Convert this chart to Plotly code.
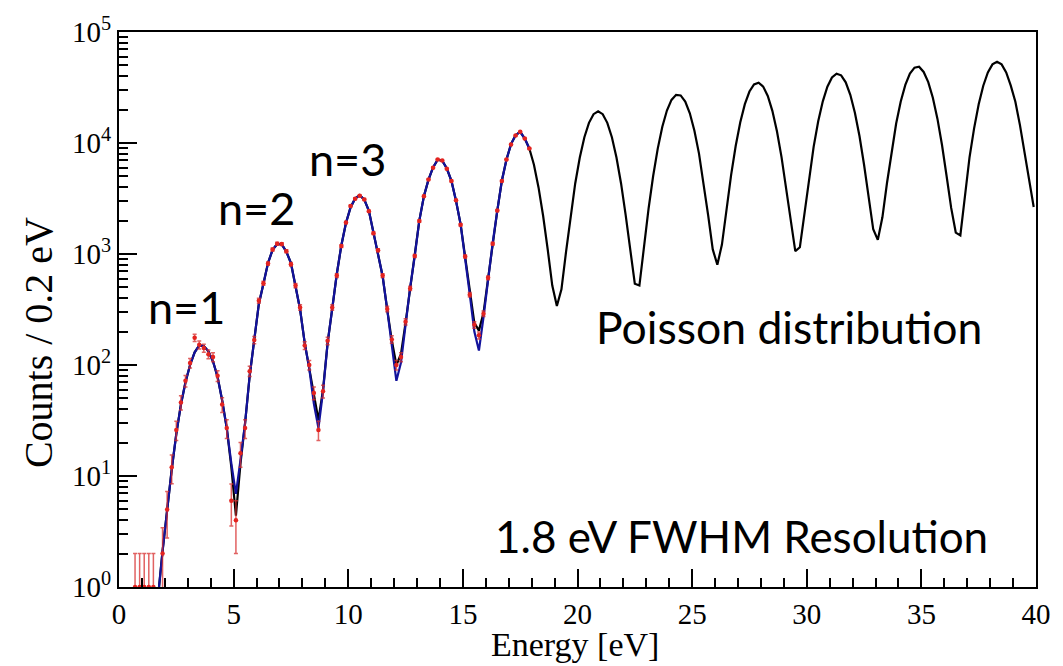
import numpy as np
import plotly.graph_objects as go

# Histogram bins: 0.2 eV wide, centres 0.1 ... 39.9 eV
ENERGY_BINS = [round(0.1 + 0.2 * i, 1) for i in range(200)]

# Black curve: Poisson distribution (counts / 0.2 eV), one value per bin
POISSON_COUNTS = [
    None, None, None, None, None, None, None, 0.25, 0.8, 2.1,
    5.2, 11.5, 24, 44, 70, 100, 130, 150, 148, 133,
    108, 78, 48, 27, 12, 4.4, 13, 30, 80, 170,
    355, 540, 830, 1090, 1230, 1220, 1050, 830, 525, 316,
    158, 93, 52, 32, 60, 158, 320, 660, 1200, 1900,
    2630, 3160, 3390, 3090, 2450, 1580, 1050, 630, 316, 166,
    100, 126, 240, 500, 955, 2000, 3310, 4680, 6030, 7080,
    6920, 5890, 4570, 3020, 1860, 930, 436, 240, 204, 295,
    600, 1260, 2450, 4570, 7080, 9770, 11750, 12590, 10960, 8910,
    6370, 3980, 2210, 1100, 520, 340, 480, 1045, 2240, 4320,
    7400, 11260, 15190, 18180, 19300, 18180, 15190, 11260, 7400, 4320,
    2250, 1080, 540, 520, 1190, 2560, 5040, 8900, 14020, 19620,
    24440, 27150, 26840, 23620, 18520, 12910, 8030, 4440, 2230, 1100,
    800, 1215, 2535, 5140, 9400, 15350, 22380, 29090, 33740, 34930,
    32240, 26550, 19500, 12770, 7470, 3940, 1930, 1060, 1150, 2380,
    4890, 9230, 15680, 23730, 32150, 38920, 42150, 40710, 35180, 27180,
    18760, 11560, 6370, 3230, 1670, 1340, 2140, 4360, 8500, 14980,
    23650, 33420, 42230, 47730, 48610, 43660, 35330, 25580, 16560, 9590,
    5040, 2600, 1560, 1470, 3300, 7420, 13560, 22300, 32830, 43290,
    51090, 54000, 51090, 43290, 32830, 23500, 14500, 8200, 4600, 2650,
]

# Blue curve: fit, first 90 bins (0.1 ... 17.9 eV)
FIT_COUNTS = [
    None, None, None, None, None, None, None, 0.25, 0.8, 2.1,
    5.2, 11.5, 24, 44, 70, 100, 130, 150, 148, 133,
    108, 78, 48, 27, 13, 6.9, 14, 30, 80, 170,
    355, 540, 830, 1090, 1230, 1220, 1050, 830, 525, 316,
    158, 93, 45, 27, 58, 158, 320, 660, 1200, 1900,
    2630, 3160, 3390, 3090, 2450, 1580, 1050, 630, 316, 150,
    72, 105, 240, 500, 955, 2000, 3310, 4680, 6030, 7080,
    6920, 5890, 4570, 3020, 1860, 930, 436, 200, 135, 270,
    600, 1260, 2450, 4570, 7080, 9770, 11750, 12590, 10960, 8910,
]

# Red points: measured counts, first 90 bins (0.1 ... 17.9 eV)
DATA_COUNTS = [
    None, None, None, 1, 1, 1, 1, 1, None, 2,
    5, 12, 26, 46, 72, 104, 176, 152, 142, 125,
    118, 80, 44, 27, 6, 4, 16, 27, 88, 168,
    380, 545, 820, 1100, 1240, 1230, 1060, 810, 520, 330,
    150, 100, 56, 26, 58, 165, 330, 640, 1180, 1920,
    2700, 3150, 3350, 3100, 2430, 1540, 1080, 640, 320, 170,
    100, 118, 245, 490, 960, 1980, 3320, 4700, 6000, 7100,
    6950, 5850, 4550, 3050, 1830, 950, 430, 230, 185, 290,
    610, 1240, 2460, 4550, 7100, 9700, 11700, 12600, 11000, 8900,
]

X_TICKS = [0, 5, 10, 15, 20, 25, 30, 35, 40]
Y_TICK_VALUES = [1, 10, 100, 1000, 10000, 100000]
Y_TICK_TEXT = ["10<sup>0</sup>", "10<sup>1</sup>", "10<sup>2</sup>",
               "10<sup>3</sup>", "10<sup>4</sup>", "10<sup>5</sup>"]

# red points with Poisson (sqrt N) error bars
data_x = [e for e, c in zip(ENERGY_BINS, DATA_COUNTS) if c is not None]
data_y = [c for c in DATA_COUNTS if c is not None]
data_err = list(np.sqrt(np.array(data_y, dtype=float)))

fig = go.Figure()
fig.add_trace(go.Scatter(
    x=ENERGY_BINS, y=POISSON_COUNTS, mode="lines",
    line=dict(color="black", width=2.2), showlegend=False,
))
fig.add_trace(go.Scatter(
    x=ENERGY_BINS[:len(FIT_COUNTS)], y=FIT_COUNTS, mode="lines",
    line=dict(color="#12129c", width=2.2), showlegend=False,
))
fig.add_trace(go.Scatter(
    x=data_x, y=data_y, mode="markers",
    marker=dict(color="#e3231f", size=4.5),
    error_y=dict(type="data", array=data_err, visible=True,
                 color="rgba(215,45,45,0.75)", thickness=1.5, width=2),
    showlegend=False,
))

SERIF = "Liberation Serif"
SANS = "Lato"

fig.update_layout(
    width=1063, height=666,
    margin=dict(l=119, r=16, t=28, b=79),
    paper_bgcolor="white", plot_bgcolor="white",
    font=dict(family=SERIF, color="black"),
    xaxis=dict(
        range=[0, 40], tickmode="array", tickvals=X_TICKS,
        showline=True, linecolor="black", linewidth=2, mirror=True,
        ticks="inside", ticklen=18, tickwidth=1.5, tickcolor="black",
        minor=dict(ticks="inside", ticklen=9, tickwidth=1.5, tickcolor="black", dtick=1),
        tickfont=dict(family=SERIF, size=29, color="black"),
        showgrid=False, zeroline=False,
    ),
    yaxis=dict(
        type="log", range=[0, 5],
        tickmode="array", tickvals=Y_TICK_VALUES, ticktext=Y_TICK_TEXT,
        showline=True, linecolor="black", linewidth=2, mirror=True,
        ticks="inside", ticklen=18, tickwidth=1.5, tickcolor="black",
        minor=dict(ticks="inside", ticklen=9, tickwidth=1.5, tickcolor="black", dtick="D1"),
        tickfont=dict(family=SERIF, size=29, color="black"),
        showgrid=False, zeroline=False,
    ),
)

annotations = [
    dict(text="Energy [eV]", x=0.4968, y=-0.067, yanchor="top",
         font=dict(family=SERIF, size=34, color="black")),
    dict(text="Counts / 0.2 eV", x=-0.088, y=0.44, textangle=-90,
         font=dict(family=SERIF, size=40, color="black")),
    dict(text="n=1", x=0.0733, y=0.505, font=dict(family=SANS, size=45, color="black")),
    dict(text="n=2", x=0.1498, y=0.683, font=dict(family=SANS, size=45, color="black")),
    dict(text="n=3", x=0.249, y=0.771, font=dict(family=SANS, size=45, color="black")),
    dict(text="Poisson distribution", x=0.731, y=0.469, font=dict(family=SANS, size=44.5, color="black")),
    dict(text="1.8 eV FWHM Resolution", x=0.6786, y=0.091, font=dict(family=SANS, size=44, color="black")),
]
for a in annotations:
    a.setdefault("yanchor", "middle")
    a.update(xref="paper", yref="paper", showarrow=False, xanchor="center")
fig.update_layout(annotations=annotations)

fig.write_html("out.html")
